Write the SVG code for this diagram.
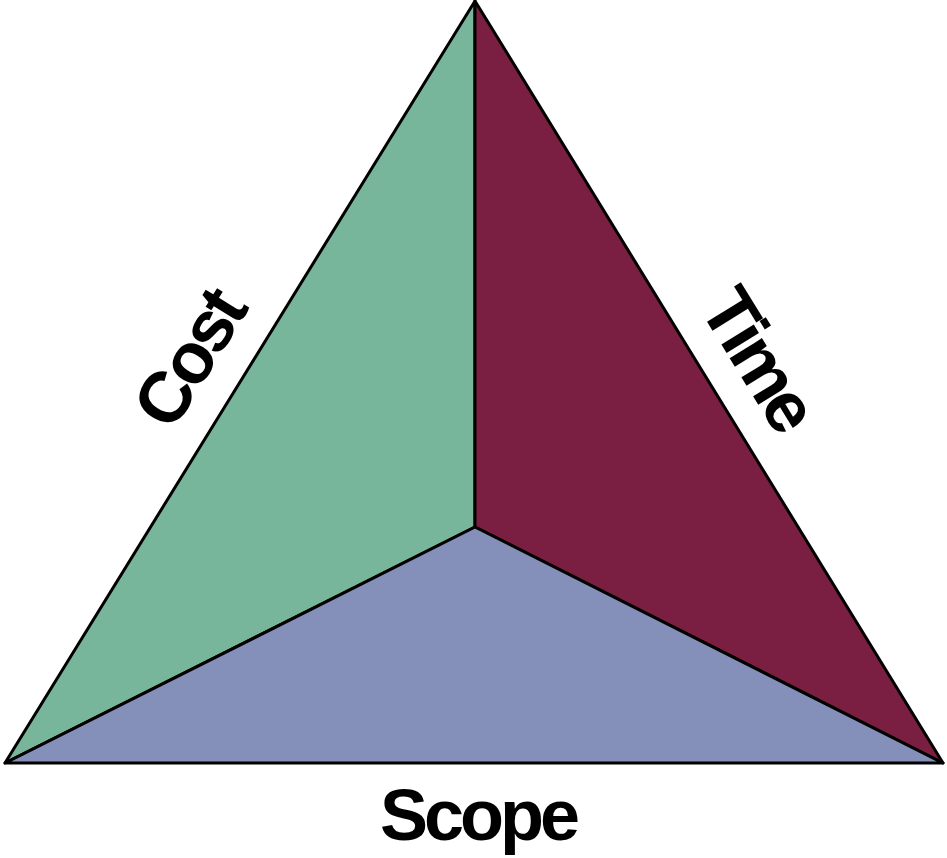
<svg xmlns="http://www.w3.org/2000/svg" width="947" height="858" viewBox="0 0 947 858">
  <style>
    .face { stroke: #000; stroke-width: 3; stroke-linejoin: round; }
    .label { font-family: "Liberation Sans", Arial, sans-serif; font-weight: bold; font-size: 72px; fill: #000; text-anchor: middle; letter-spacing: -4px; }
  </style>
  <rect width="947" height="858" fill="#fff"/>
  <!-- three faces of the project triangle meeting at the centre point -->
  <g id="cost-face">
    <polygon class="face" fill="#78B69B" points="475,1 475,527 5,763"/>
  </g>
  <g id="time-face">
    <polygon class="face" fill="#7A1F41" points="475,1 943,763 475,527"/>
  </g>
  <g id="scope-face">
    <polygon class="face" fill="#8490B9" points="5,763 475,527 943,763"/>
  </g>
  <!-- side labels -->
  <g id="cost-label">
    <text class="label" transform="translate(188,358) rotate(-58.3)" y="26">Cost</text>
  </g>
  <g id="time-label">
    <text class="label" transform="translate(760,358) rotate(58.4)" y="26">Time</text>
  </g>
  <g id="scope-label">
    <text class="label" x="478" y="840">Scope</text>
  </g>
</svg>
